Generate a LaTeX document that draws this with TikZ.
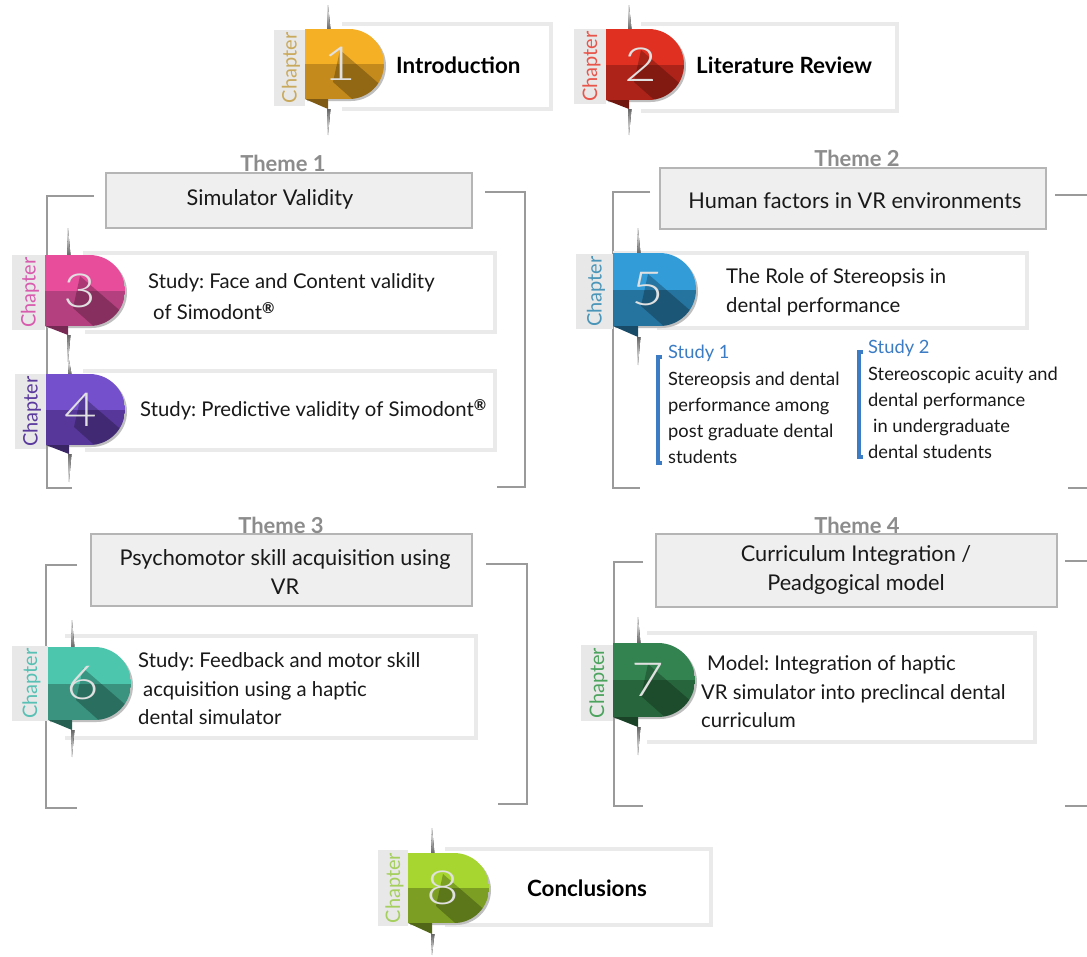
\documentclass[tikz,border=0pt]{standalone}
\usepackage{fontspec}
\setmainfont{Lato}
\newfontfamily\numfont{Lato Light}
\definecolor{cA}{HTML}{F5B026}\definecolor{dA}{HTML}{C48B1C}\definecolor{tA}{HTML}{C9A95C}
\definecolor{cB}{HTML}{DF3021}\definecolor{dB}{HTML}{AE2319}\definecolor{tB}{HTML}{E8554B}
\definecolor{cC}{HTML}{E84D9C}\definecolor{dC}{HTML}{B5407F}\definecolor{tC}{HTML}{D85BAE}
\definecolor{cD}{HTML}{7450CC}\definecolor{dD}{HTML}{57389A}\definecolor{tD}{HTML}{5B3A9E}
\definecolor{cE}{HTML}{329CD9}\definecolor{dE}{HTML}{25749F}\definecolor{tE}{HTML}{4A95B8}
\definecolor{cF}{HTML}{4CC7AD}\definecolor{dF}{HTML}{39937F}\definecolor{tF}{HTML}{58C0B4}
\definecolor{cG}{HTML}{338350}\definecolor{dG}{HTML}{27663C}\definecolor{tG}{HTML}{4CA35E}
\definecolor{cH}{HTML}{A6D62F}\definecolor{dH}{HTML}{7C9E23}\definecolor{tH}{HTML}{A5CF5E}
\definecolor{frameg}{HTML}{EAEAEA}
\definecolor{stripg}{HTML}{E8E8E8}
\definecolor{boxfill}{HTML}{EFEFEF}
\definecolor{boxline}{HTML}{B5B5B5}
\definecolor{brack}{HTML}{9A9A9A}
\definecolor{studyblue}{HTML}{3B7CC4}
\tikzset{
  frameline/.style={draw=frameg,line width=4pt,line cap=butt},
  bracketline/.style={draw=brack,line width=1.5pt},
  themebox/.style={fill=boxfill,draw=boxline,line width=2.5pt},
  themelabel/.style={font=\fontsize{22}{24}\selectfont\bfseries,text=gray!90,inner sep=0pt},
  themetext/.style={font=\fontsize{21.7}{29}\selectfont,text=black!90,inner sep=0pt,align=center},
  bodytext/.style={font=\fontsize{20.3}{28.5}\selectfont,text=black!90,inner sep=0pt,anchor=west,align=left},
  studytext/.style={font=\fontsize{18.3}{26}\selectfont,text=black!90,inner sep=0pt,anchor=west,align=left},
  studylabel/.style={font=\fontsize{18.3}{22}\selectfont,text=studyblue,inner sep=0pt,anchor=west},
  boldtext/.style={font=\fontsize{22.4}{26}\selectfont\bfseries,text=black,inner sep=0pt},
  studybar/.style={draw=studyblue,line width=3.5pt},
}
\newcommand\regmark{\raisebox{6pt}{\fontsize{15}{15}\selectfont\bfseries ®}}
\newcommand\dshape{(\bL,\bT) -- (\bRr,\bT) .. controls (\bCx,\bT) and (\bR,\bUp) .. (\bR,\bM) .. controls (\bR,\bDn) and (\bCx,\bB) .. (\bRr,\bB) -- (\bL,\bB) -- cycle}
% #1 number #2 L #3 R #4 T #5 B #6 strip left #7 strip top #8 strip bottom #9 colour letter
\newcommand\chapbadge[9]{%
  \def\bL{#2}\def\bR{#3}\def\bT{#4}\def\bB{#5}\def\sL{#6}\def\sT{#7}\def\sB{#8}%
  \def\bNum{#1}\def\bCol{#9}\chapbadgeB}
% #1 fold y  #2 spine x  #3 spine top  #4 spine bottom
\newcommand\chapbadgeB[4]{%
  \pgfmathsetmacro\bM{(\bT+\bB)/2}%
  \pgfmathsetmacro\bRad{(\bB-\bT)/2}%
  \pgfmathsetmacro\bRr{\bR-\bRad}%
  \pgfmathsetmacro\bCx{\bRr+0.5523*\bRad}%
  \pgfmathsetmacro\bUp{\bM-0.5523*\bRad}%
  \pgfmathsetmacro\bDn{\bM+0.5523*\bRad}%
  \pgfmathsetmacro\sM{(\sT+\sB)/2}%
  \pgfmathsetmacro\sC{(\sL+\bL)/2+1.5}%
  \pgfmathsetmacro\nX{\bL+35}%
  \pgfmathsetmacro\aX{\bL+35}\pgfmathsetmacro\aY{\bT+21}%
  \pgfmathsetmacro\dX{\bL+28}\pgfmathsetmacro\dY{\bT+53}%
  \pgfmathsetmacro\bX{\aX+74}\pgfmathsetmacro\bY{\aY+64}%
  \pgfmathsetmacro\cX{\dX+70}\pgfmathsetmacro\cY{\dY+62}%
  % spine
  \fill[top color=white,bottom color=black!60] (#2,#3) -- (#2+2.5,\bT) -- (#2-1,\bT) -- cycle;
  \fill[top color=black!60,bottom color=white] (#2-1,#1) -- (#2+2.5,#1) -- (#2,#4) -- cycle;
  % strip
  \fill[stripg] (\sL,\sT) rectangle (\bL,\sB);
  % soft edge of the D
  \fill[black!25,shift={(2pt,-2pt)}] \dshape;
  % fold
  \fill[d\bCol!65!black] (\bL,\bB) -- (#2,\bB) -- (#2,#1) -- cycle;
  % D
  \begin{scope}
    \clip \dshape;
    \fill[c\bCol] (\bL,\bT) rectangle (\bR,\bM);
    \fill[d\bCol] (\bL,\bM) rectangle (\bR,\bB);
    \fill[black,opacity=.25] (\aX,\aY) -- (\bX,\bY) -- (\cX,\cY) -- (\dX,\dY) -- cycle;
  \end{scope}
  \node[inner sep=0pt,text=white!88!black,font=\fontsize{47}{47}\selectfont\numfont] (num\bNum) at (\nX,\bM) {\scalebox{1.2}[1]{\bNum}};
  \node[rotate=90,inner sep=0pt,text=t\bCol,font=\fontsize{20}{22}\selectfont] (chap\bNum) at (\sC,\sM) {Chapter};
}
\begin{document}
\frenchspacing
\begin{tikzpicture}[x=1pt,y=-1pt]
\useasboundingbox (0,0) rectangle (1087,956);
\fill[white] (0,0) rectangle (1087,956);
% brackets
\draw[bracketline] (94,196) -- (47,196) -- (47,488) -- (72,488);
\draw[bracketline] (485,192) -- (525,192) -- (525,487) -- (497,487);
\draw[bracketline] (650,192) -- (613,192) -- (613,488) -- (640,488);
\draw[bracketline] (1055,195) -- (1087,195);
\draw[bracketline] (1068,488) -- (1087,488);
\draw[bracketline] (77,565) -- (46,565) -- (46,808) -- (77,808);
\draw[bracketline] (486,564) -- (527,564) -- (527,804) -- (498,804);
\draw[bracketline] (643,562) -- (614,562) -- (614,806) -- (643,806);
\draw[bracketline] (1065,561) -- (1087,561);
\draw[bracketline] (1065,806) -- (1087,806);
% theme boxes
\draw[themebox] (106,173) rectangle (472,228);
\draw[themebox] (660,168) rectangle (1046,229);
\draw[themebox] (91,534) rectangle (472,606);
\draw[themebox] (656,534) rectangle (1057,607);
\node[themelabel] (th1) at (283,163) {Theme 1};
\node[themelabel] (th2) at (857,158) {Theme 2};
\node[themelabel] (th3) at (281,525) {Theme 3};
\node[themelabel] (th4) at (857,525) {Theme 4};
\node[themetext] (t1) at (270,199) {Simulator Validity};
\node[themetext] (t2) at (855,200.5) {Human factors in VR environments};
\node[themetext] (t3) at (285,572) {Psychomotor skill acquisition using\\VR};
\node[themetext] (t4) at (856,570) {Curriculum Integration /\\Peadgogical model};
% frames
\draw[frameline] (342,24) -- (551,24) -- (551,109) -- (342,109);
\draw[frameline] (641,24) -- (897,24) -- (897,111) -- (641,111);
\draw[frameline] (83,253) -- (495,253) -- (495,332) -- (85,332);
\draw[frameline] (83,371) -- (495,371) -- (495,450) -- (85,450);
\draw[frameline] (613,253) -- (1027,253) -- (1027,328) -- (657,328);
\draw[frameline] (65,636) -- (476,636) -- (476,738) -- (65,738);
\draw[frameline] (647,633) -- (1035,633) -- (1035,742) -- (647,742);
\draw[frameline] (445,849) -- (711,849) -- (711,925) -- (445,925);
% badges
\chapbadge{1}{305}{384}{29}{99}{274}{30}{106}{A}{109}{328}{5}{135}
\chapbadge{2}{606}{684}{29}{100}{574}{29}{104}{B}{109}{629}{5}{135}
\chapbadge{3}{45}{125}{255}{326}{12}{255}{330}{C}{335}{68}{228}{362}
\chapbadge{4}{46}{125}{374}{445}{15}{374}{449}{D}{454}{69}{360}{482}
\chapbadge{5}{613}{696}{253}{326}{576}{254}{329}{E}{337}{638}{228}{365}
\chapbadge{6}{48}{131}{647}{720}{12}{646}{721}{F}{730}{72}{620}{757}
\chapbadge{7}{613}{695}{643}{717}{581}{645}{721}{G}{727}{638}{617}{755}
\chapbadge{8}{408}{489}{853}{923}{378}{850}{926}{H}{934}{432}{828}{955}
% texts
\node[boldtext,anchor=west] (x1) at (396,65) {Introduction};
\node[boldtext,anchor=west] (x2) at (696,65) {Literature Review};
\node[boldtext] (x8) at (587,888) {Conclusions};
\node[bodytext] (x3) at (148,297) {Study: Face and Content validity\\[2.5pt]\hspace*{5pt}of Simodont\regmark};
\node[bodytext] (x4) at (140,410) {Study: Predictive validity of Simodont\regmark};
\node[bodytext] (x5) at (726,292.5) {The Role of Stereopsis in\\dental performance};
\node[bodytext] (x6) at (138,689) {Study: Feedback and motor skill\\\hspace*{5pt}acquisition using a haptic\\dental simulator};
\node[bodytext] (x7) at (701,692) {\hspace*{6pt}Model: Integration of haptic\\VR simulator into preclincal dental\\curriculum};
\node[studylabel] (s1) at (668,353.5) {Study 1};
\node[studylabel] (s2) at (868,348.5) {Study 2};
\node[studytext] (s1t) at (668,418) {Stereopsis and dental\\performance among\\post graduate dental\\students};
\node[studytext] (s2t) at (868,412.5) {Stereoscopic acuity and\\dental performance\\\hspace*{5pt}in undergraduate\\dental students};
\draw[studybar] (662,357) -- (658,357) -- (658,463) -- (662,463);
\draw[studybar] (863,352) -- (859,352) -- (859,457) -- (863,457);
\end{tikzpicture}
\end{document}
